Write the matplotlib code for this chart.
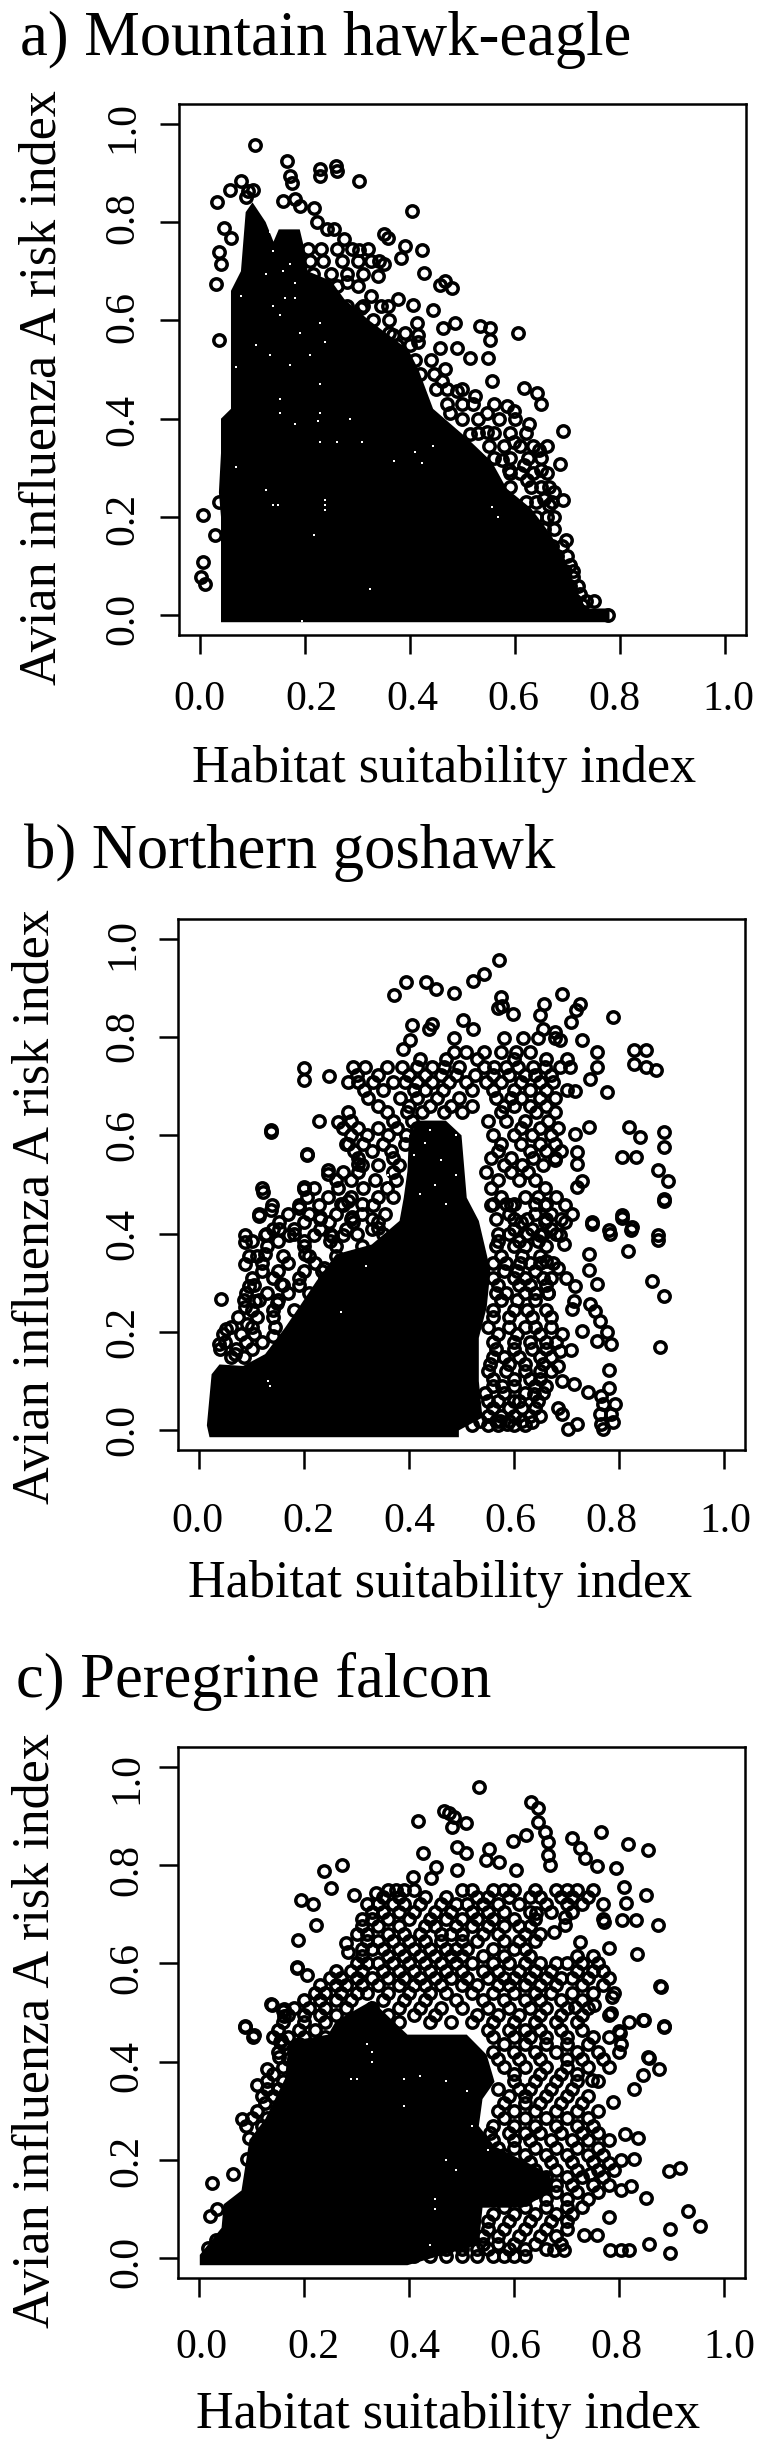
import matplotlib
matplotlib.use("Agg")
import matplotlib.pyplot as plt

W, H = 767, 2454
plt.rcParams['font.family'] = ['Liberation Serif', 'DejaVu Serif']

ticks = [0.0, 0.2, 0.4, 0.6, 0.8, 1.0]
tick_labels = ['0.0', '0.2', '0.4', '0.6', '0.8', '1.0']

# ---- a) Mountain hawk-eagle
a_x = [.104,.165,.172,.176,.228,.228,.259,.261,.303,.404,.078,.057,.033,.092,.10,.087,.158,.181,.19,.218,
       .045,.059,.223,.242,.256,.275,.303,.35,.359,.39,.422,.383,.34,.35,.339,.427,.467,.458,.48,.28,.031,.04,.036,
       .036,.326,.378,.406,.444,.359,.307,.413,.416,.462,.486,.533,.553,.553,.605,.367,.416,.458,.49,.514,.549,
       .467,.46,.49,.523,.556,.547,.585,.599,.618,.641,.65,.476,.692,.627,.547,.514,.599,.645,.575,.617,.685,.65,.589,
       .622,.674,.692,.655,.664,.697,.705,.711,.723,.727,.777,.006,.029,.006,.001,.01,.036]
a_y = [.957,.925,.894,.88,.907,.894,.914,.904,.883,.822,.883,.865,.841,.863,.866,.85,.843,.846,.833,.829,
       .788,.768,.799,.785,.785,.765,.744,.775,.768,.751,.744,.727,.72,.714,.69,.696,.68,.671,.666,.677,.673,.714,.738,
       .561,.65,.643,.631,.622,.629,.626,.595,.571,.585,.594,.588,.585,.561,.575,.57,.555,.544,.544,.524,.524,
       .5,.477,.456,.446,.477,.412,.426,.416,.463,.453,.429,.412,.374,.39,.373,.369,.353,.336,.315,.305,.308,.295,.295,
       .275,.251,.235,.237,.224,.153,.102,.078,.044,.02,.0,.205,.163,.108,.078,.064,.23]
a_row_y = [.745,.72,.695,.67,.63,.60,.575,.55,.52,.49,.46,.43,.40,.37,.345,.32,.29,.26,.23,.20,.175,.14,.12,.09,.06,.03]
a_row_x = [[.205,.23,.26,.29,.32],
           [.21,.235,.27,.30,.325],
           [.215,.25,.28,.31],
           [.22,.26,.30],
           [.28,.31,.345],
           [.33,.36],
           [.305,.33,.36,.39],
           [.35,.375,.40],
           [.36,.41,.44],
           [.39,.42,.445],
           [.45,.47,.5],
           [.47,.5,.52,.56],
           [.5,.53,.57,.6],
           [.53,.56,.59,.62],
           [.55,.58,.61,.635,.66],
           [.56,.59,.625,.65],
           [.59,.61,.635,.66],
           [.59,.63,.65,.665],
           [.62,.64,.67],
           [.64,.66,.675],
           [.655,.675],
           [.67,.69],
           [.68,.70],
           [.695,.71],
           [.705,.72],
           [.715,.735,.75]]
a_env_x = [.04,.04,.036,.04,.04,.059,.059,.078,.087,.10,.125,.14,.15,.19,.20,.205,.25,.275,.322,.397,.416,.444,.509,
           .556,.584,.631,.669,.697,.716,.735,.78,.78]
a_env_y = [-.014,.2,.25,.33,.4,.42,.66,.7,.82,.84,.8,.76,.785,.785,.74,.70,.68,.643,.60,.54,.5,.42,.36,
           .312,.258,.217,.163,.108,.054,.014,.014,-.014]
a_speck_x = [.134,.139,.125,.158,.172,.181,.181,.162,.139,.134,.172,.228,.238,.19,.153,.209,.228,.153,.068,.106,.078,
             .153,.228,.181,.224,.285,.228,.261,.308,.41,.369,.423,.444,.125,.139,.148,.238,.238,.238,.217,.324,.557,.567,.068,.194]
a_speck_y = [.78,.74,.695,.7,.715,.675,.645,.645,.63,.53,.51,.595,.555,.575,.61,.53,.47,.44,.505,.55,.65,
             .412,.412,.39,.395,.4,.352,.352,.352,.333,.313,.309,.345,.254,.224,.224,.234,.224,.214,.163,.054,.22,.2,.302,-.012]

# ---- b) Northern goshawk
b_x = [.572,.542,.521,.395,.371,.432,.451,.486,.575,.577,.599,.57,.657,.692,.725,.718,.708,.788,.406,.444,.439,.503,.521,
       .65,.655,.678,.688,.402,.388,.73,.758,.758,.744,.716,.777,.828,.852,.828,.852,.871,.2,.2,.247,.137,.206,.228,.265,
       .819,.84,.886,.886,.805,.833,.875,.894,.886,.742,.716,.72,.72,.678,.73,.72,.12,.139,.115,.2,.245,.805,.824,.781,.749,.875,
       .885,.874,.817,.863,.885,.879,.748,.783,.806,.823,.742,.742,.759,.696,.717,.714,.71,.744,.755,.763,.778,.759,.785,.781,.781,
       .708,.687,.691,.729,.683,.665,.661,.684,.699,.612,.72,.702,.635,.691,.684,.714,.74,.691,
       .766,.789,.77,.763,.785,.793,.77,.766,.578,.6,.638,.586,.574,
       .041,.052,.088,.096,.088,.127,.152,.121,.137,.115,.19,.206,.137,.246,.2,.28,.303,.126,.096,.088,.092,.107,.039,.069,.156,.148,.141,
       .284,.231,.292,.341,.254,.201,.239]
b_y = [.957,.929,.914,.911,.885,.911,.898,.89,.881,.864,.847,.86,.868,.887,.868,.854,.83,.841,.824,.827,.817,.835,.817,
       .844,.817,.81,.793,.793,.776,.793,.769,.739,.715,.691,.689,.773,.773,.746,.739,.732,.736,.712,.721,.61,.563,.63,.628,
       .617,.597,.607,.576,.556,.556,.529,.508,.471,.617,.603,.566,.542,.549,.508,.495,.492,.458,.441,.495,.529,.437,.414,.407,.424,.397,
       .466,.388,.365,.304,.273,.169,.419,.4,.431,.407,.358,.327,.297,.378,.294,.263,.246,.256,.243,.222,.199,.182,.175,.122,.087,
       .163,.161,.195,.202,.131,.28,.344,.331,.31,.341,.012,.002,.016,.033,.046,.094,.077,.1,
       .012,.016,.002,.033,.033,.053,.053,.07,.09,.06,.073,.012,.019,
       .268,.207,.384,.355,.338,.4,.409,.485,.449,.436,.452,.559,.607,.522,.49,.582,.541,.358,.294,.25,.216,.263,.175,.155,.297,.26,.192,
       .466,.433,.433,.412,.395,.358,.331]
b_row_y = [.797,.769,.739,.708,.675,.647,.614,.583,.553,.525,.492,.458,.424,.397,
           .46,.43,.40,.375,.34,.31,.28,.245,.21,.18,.15,.12,.09,.06,.03,.01,
           .755,.723,.692,.66,.63,.6,.568,.54,.51,.475,.44,.41,.385,.355,.325,.295,.265,.23,.195,.165,.135,.105,.075,.045,.02]
b_row_x = [[.486,.58,.617,.645,.678],
           [.486,.509,.542,.575,.603,.631],
           [.294,.317,.359,.387,.416,.444,.467,.495,.542,.561,.584,.608,.636,.659,.688,.706],
           [.284,.303,.331,.369,.392,.416,.444,.477,.509,.547,.575,.613,.65,.674],
           [.322,.383,.416,.453,.495,.566,.594,.613,.65,.678],
           [.284,.359,.397,.425,.467,.5,.575,.641,.678],
           [.275,.303,.341,.378,.416,.613,.65,.683],
           [.284,.312,.35,.392,.575,.613,.65,.678],
           [.303,.369,.556,.594,.636,.678],
           [.275,.303,.369,.547,.594,.627],
           [.219,.265,.312,.359,.659,.556],
           [.19,.228,.275,.331,.556,.594,.659,.697],
           [.153,.2,.247,.294,.341,.613,.659,.697],
           [.087,.125,.172,.219,.275,.65,.688],
           [.27,.31,.56,.585,.6,.64,.66],
           [.23,.29,.33,.565,.6,.625,.66,.69],
           [.18,.25,.3,.35,.57,.59,.625,.655,.68],
           [.13,.2,.26,.31,.565,.6,.62,.66],
           [.12,.17,.22,.27,.56,.585,.63,.65,.675],
           [.1,.14,.19,.24,.56,.6,.62,.655,.67],
           [.09,.13,.17,.21,.565,.585,.62,.64,.665],
           [.1,.14,.18,.56,.6,.625,.66],
           [.06,.1,.145,.55,.59,.62,.64,.67],
           [.05,.09,.12,.56,.6,.63,.66,.68],
           [.06,.085,.56,.58,.61,.65,.67],
           [.55,.585,.62,.65,.67],
           [.56,.6,.64,.66],
           [.55,.57,.61,.645],
           [.55,.575,.6,.63,.65],
           [.52,.55,.57,.6,.62],
           [.42,.47,.53,.60,.66,.70],
           [.30,.34,.40,.43,.46,.49,.525,.56,.59,.62,.64,.67],
           [.315,.35,.41,.43,.465,.52,.56,.60,.63,.66,.70],
           [.34,.40,.44,.48,.52,.58,.60,.63,.66],
           [.29,.37,.405,.55,.585,.62,.665],
           [.29,.32,.36,.395,.56,.60,.635,.67],
           [.295,.33,.365,.57,.63,.66,.69],
           [.31,.34,.38,.58,.615,.655],
           [.26,.29,.335,.375,.57,.61,.64],
           [.205,.245,.29,.34,.37,.575,.62,.645,.68],
           [.17,.21,.26,.31,.355,.59,.64,.67,.71],
           [.14,.18,.23,.28,.33,.60,.635,.67],
           [.10,.15,.2,.25,.57,.61,.645],
           [.11,.16,.21,.26,.575,.615,.65],
           [.12,.15,.2,.235,.58,.605,.64],
           [.105,.16,.19,.57,.61,.63,.66],
           [.085,.115,.15,.575,.605,.64],
           [.075,.11,.14,.56,.59,.635,.67],
           [.045,.08,.105,.57,.605,.65],
           [.04,.07,.10,.565,.6,.635,.66],
           [.555,.59,.62,.655],
           [.56,.6,.63,.65],
           [.545,.58,.62,.655],
           [.56,.59,.615,.64],
           [.535,.565,.59,.615]]
b_env_x = [.02,.015,.024,.039,.084,.126,.164,.194,.224,.261,.329,.382,.39,.397,.40,.42,.47,.5,.51,.533,.548,.555,.548,.533,.533,.54,.495,.495]
b_env_y = [-.014,.01,.114,.134,.131,.155,.209,.256,.304,.358,.378,.426,.473,.527,.6,.63,.63,.6,.473,.426,.358,.324,.25,.188,.1,.026,.0,-.014]
b_speck_x = [.318,.135,.132,.27,.36,.36,.41,.46,.42,.45,.49,.43,.47,.49,.44]
b_speck_y = [.334,.09,.1,.24,.5,.52,.56,.55,.48,.5,.52,.585,.46,.6,.61]

# ---- c) Peregrine falcon
c_x = [.533,.633,.645,.645,.417,.467,.477,.486,.509,.481,.765,.711,.725,.817,.856,.735,.758,.794,.598,.622,.659,.664,.664,.669,
       .491,.509,.553,.427,.547,.571,.272,.239,.451,.491,.603,.408,.442,.251,.295,.338,.195,.217,.223,.189,.28,.284,
       .81,.852,.814,.875,.772,.805,.833,.725,.781,.835,.88,.886,.847,.819,.802,.856,.676,.697,.641,.697,
       .186,.205,.139,.162,.162,.087,.103,.155,.716,.753,.781,.786,
       .879,.885,.846,.785,.8,.804,.857,.876,.846,.828,.748,.789,.812,.836,.828,.804,.917,.896,.851,.781,.931,.955,.897,.897,.857,
       .819,.804,.783,.759,.733,.695,.676,.804,.823,.744,.781,
       .024,.064,.02,.035,.017,.032,.081,.11,.13,.087,.105,.137,.16,.156,.186,.152,.096,.092]
c_y = [.958,.929,.915,.888,.89,.91,.905,.898,.885,.878,.868,.854,.834,.842,.83,.814,.797,.793,.849,.861,.868,.847,.82,.8,
       .837,.824,.833,.824,.81,.807,.8,.788,.795,.79,.79,.776,.773,.753,.74,.744,.729,.721,.678,.647,.641,.624,
       .756,.739,.722,.678,.685,.688,.688,.643,.631,.619,.551,.471,.485,.481,.458,.41,.664,.678,.702,.695,
       .59,.576,.515,.508,.492,.471,.451,.441,.512,.515,.495,.532,
       .553,.472,.485,.5,.462,.436,.407,.386,.372,.345,.362,.317,.252,.245,.202,.2,.183,.178,.123,.084,.097,.066,.06,.01,.029,
       .017,.017,.017,.047,.047,.017,.017,.138,.148,.172,.193,
       .153,.172,.086,.1,.021,.038,.283,.352,.386,.472,.455,.517,.503,.445,.593,.41,.245,.203]
c_row_y = [.75,.72,.69,.66,.63,.6,.57,.54,.51,.48,.45,.42,.39,.36,.33,.3,.27,.24,.21,.18,.15,.12,.09,.06,.03,.005,
           .735,.705,.675,.645,.615,.585,.555,.525,.495,.465,.435,.405,.375,.345,.315,.285,.255,.225,.195,.165,.135,.105,.075,.045,.018]
c_row_x = [[.36,.375,.39,.41,.5,.52,.56,.58,.6,.64,.68,.7,.72,.75],
           [.32,.34,.37,.39,.42,.46,.49,.51,.54,.57,.61,.66,.7,.73,.77],
           [.31,.33,.36,.4,.44,.47,.5,.53,.56,.6,.64,.77],
           [.3,.32,.36,.39,.42,.46,.48,.5,.54,.57,.62,.65],
           [.31,.33,.35,.38,.41,.44,.47,.49,.51,.56,.6,.62],
           [.3,.32,.34,.37,.4,.43,.46,.49,.52,.56,.59,.62,.65,.68,.7,.73,.76],
           [.25,.27,.3,.33,.36,.39,.42,.45,.48,.51,.55,.58,.6,.63,.66,.69,.71,.74,.78],
           [.22,.24,.27,.3,.32,.36,.4,.44,.47,.52,.56,.6,.64,.67,.71,.75,.79],
           [.18,.21,.24,.28,.33,.38,.42,.46,.5,.55,.59,.63,.66,.7,.74],
           [.16,.2,.24,.38,.44,.48,.52,.56,.6,.64,.68,.72],
           [.14,.17,.2,.24,.56,.6,.63,.66,.7,.75,.78],
           [.15,.18,.22,.56,.6,.64,.68,.72,.76,.8],
           [.16,.2,.58,.62,.66,.7,.74,.78],
           [.13,.16,.6,.64,.68,.72,.76],
           [.12,.14,.59,.62,.66,.7,.74],
           [.11,.57,.6,.64,.68,.72,.76],
           [.09,.12,.56,.6,.64,.68,.72,.75],
           [.56,.6,.63,.67,.71,.74,.78],
           [.58,.62,.66,.7,.74,.77],
           [.6,.64,.68,.72,.76,.79],
           [.68,.71,.75,.78],
           [.62,.66,.7,.74],
           [.56,.6,.64,.68,.71],
           [.55,.58,.62,.66,.7],
           [.5,.54,.57,.6,.64,.69],
           [.41,.44,.47,.5,.53,.56,.58,.6,.62],
           [.35,.38,.43,.47,.53,.55,.59,.63,.65,.69,.71,.74],
           [.33,.35,.38,.41,.45,.48,.52,.55,.58,.63,.67,.71],
           [.31,.34,.38,.43,.45,.49,.52,.55,.58,.61,.63],
           [.32,.34,.37,.4,.43,.46,.5,.53,.58,.61,.64],
           [.31,.36,.39,.42,.45,.48,.5,.54,.58,.63,.72,.75],
           [.26,.29,.31,.35,.38,.41,.44,.47,.5,.54,.57,.61,.64,.67,.72,.75,.77],
           [.23,.26,.28,.31,.34,.38,.41,.43,.46,.5,.53,.57,.59,.62,.65,.68,.73,.77],
           [.2,.23,.26,.29,.35,.39,.43,.49,.54,.58,.62,.65,.69,.73],
           [.17,.2,.23,.26,.36,.41,.45,.53,.57,.61,.65,.69,.73],
           [.15,.19,.22,.55,.59,.62,.65,.69,.73],
           [.16,.19,.23,.58,.62,.66,.7,.74],
           [.17,.21,.57,.61,.65,.7,.73,.77],
           [.14,.18,.6,.65,.69,.72],
           [.13,.15,.57,.61,.63,.67,.71],
           [.125,.58,.62,.65,.69,.73],
           [.1,.13,.58,.62,.66,.7,.74],
           [.555,.59,.62,.65,.69,.73,.76],
           [.57,.6,.64,.68,.72,.76],
           [.59,.63,.67,.71,.75],
           [.66,.7,.73,.77],
           [.64,.68,.72,.76],
           [.58,.62,.66,.7,.73],
           [.55,.59,.63,.67,.7],
           [.54,.57,.61,.65,.68],
           [.47,.5,.53,.55,.59,.62,.66]]
c_env_x = [.0015,.0015,.043,.047,.081,.096,.126,.164,.171,.246,.261,.329,.397,.51,.548,.563,.54,.533,.563,.668,.676,.616,.54,.533,.397]
c_env_y = [-.014,.007,.062,.11,.138,.241,.283,.366,.441,.455,.483,.524,.455,.455,.414,.359,.324,.269,.228,.172,.138,.103,.103,.028,-.014]
c_speck_x = [.3,.33,.33,.32,.42,.29,.39,.39,.47,.51,.52,.55,.47,.45,.49,.44,.45]
c_speck_y = [.365,.4,.42,.435,.37,.365,.31,.365,.36,.34,.27,.22,.2,.1,.18,.028,.12]

# name, data, pixel box (left, right, top, bottom), text positions in pixels
panels = [
    dict(title='a) Mountain hawk-eagle', title_xy=(20, 55), box=(179, 746, 104, 635),
         x=a_x, y=a_y, row_y=a_row_y, row_x=a_row_x, env_x=a_env_x, env_y=a_env_y, sx=a_speck_x, sy=a_speck_y,
         xl_cx=[199, 311, 412, 513, 614, 728], xl_base=710, yl_cy=[619, 519, 420, 317, 218, 127], yl_base=133,
         xlabel_xy=(444, 782), ylabel_xy=(56.5, 388)),
    dict(title='b) Northern goshawk', title_xy=(24, 868), box=(178, 745, 919, 1450),
         x=b_x, y=b_y, row_y=b_row_y, row_x=b_row_x, env_x=b_env_x, env_y=b_env_y, sx=b_speck_x, sy=b_speck_y,
         xl_cx=[197, 308, 409, 510, 611, 725], xl_base=1532, yl_cy=[1430, 1332, 1234, 1135, 1036, 944], yl_base=133,
         xlabel_xy=(440, 1597), ylabel_xy=(49, 1207)),
    dict(title='c) Peregrine falcon', title_xy=(16, 1697), box=(178, 745, 1747, 2278),
         x=c_x, y=c_y, row_y=c_row_y, row_x=c_row_x, env_x=c_env_x, env_y=c_env_y, sx=c_speck_x, sy=c_speck_y,
         xl_cx=[201, 313, 414, 515, 616, 729], xl_base=2358, yl_cy=[2262, 2161, 2066, 1968, 1870, 1778], yl_base=137.5,
         xlabel_xy=(448, 2428), ylabel_xy=(49, 2031)),
]

fig = plt.figure(figsize=(W / 100, H / 100), dpi=100)


def put(x, y, s, size, **kw):
    fig.text(x / W, 1 - y / H, s, fontsize=size, va='baseline', **kw)


for p in panels:
    l, r, t, b = p['box']
    ax = fig.add_axes([l / W, 1 - b / H, (r - l) / W, (b - t) / H])
    ax.set_xlim(-0.04, 1.04)
    ax.set_ylim(-0.04, 1.04)

    ax.fill(p['env_x'], p['env_y'], color='k', lw=0, zorder=1)
    xs = list(p['x'])
    ys = list(p['y'])
    for yy, row in zip(p['row_y'], p['row_x']):
        xs += row
        ys += [yy] * len(row)
    ax.plot(xs, ys, 'o', mfc='none', mec='k', ms=8.2, mew=2.5, zorder=2)
    ax.plot(p['sx'], p['sy'], 's', color='w', ms=1.8, mew=0, zorder=3)

    ax.set_xticks(ticks)
    ax.set_yticks(ticks)
    ax.set_xticklabels([])
    ax.set_yticklabels([])
    ax.tick_params(length=14, width=1.8, color='k')
    for side in ax.spines.values():
        side.set_linewidth(1.8)

    for cx, s in zip(p['xl_cx'], tick_labels):
        put(cx, p['xl_base'], s, 30, ha='center')
    for cy, s in zip(p['yl_cy'], tick_labels):
        put(p['yl_base'], cy, s, 30, ha='center', rotation=90, rotation_mode='anchor')

    put(p['title_xy'][0], p['title_xy'][1], p['title'], 45, ha='left')
    put(p['xlabel_xy'][0], p['xlabel_xy'][1], 'Habitat suitability index', 37.5, ha='center')
    put(p['ylabel_xy'][0], p['ylabel_xy'][1], 'Avian influenza A risk index', 37.5, ha='center',
        rotation=90, rotation_mode='anchor')

fig.savefig('out.png', dpi=100)
